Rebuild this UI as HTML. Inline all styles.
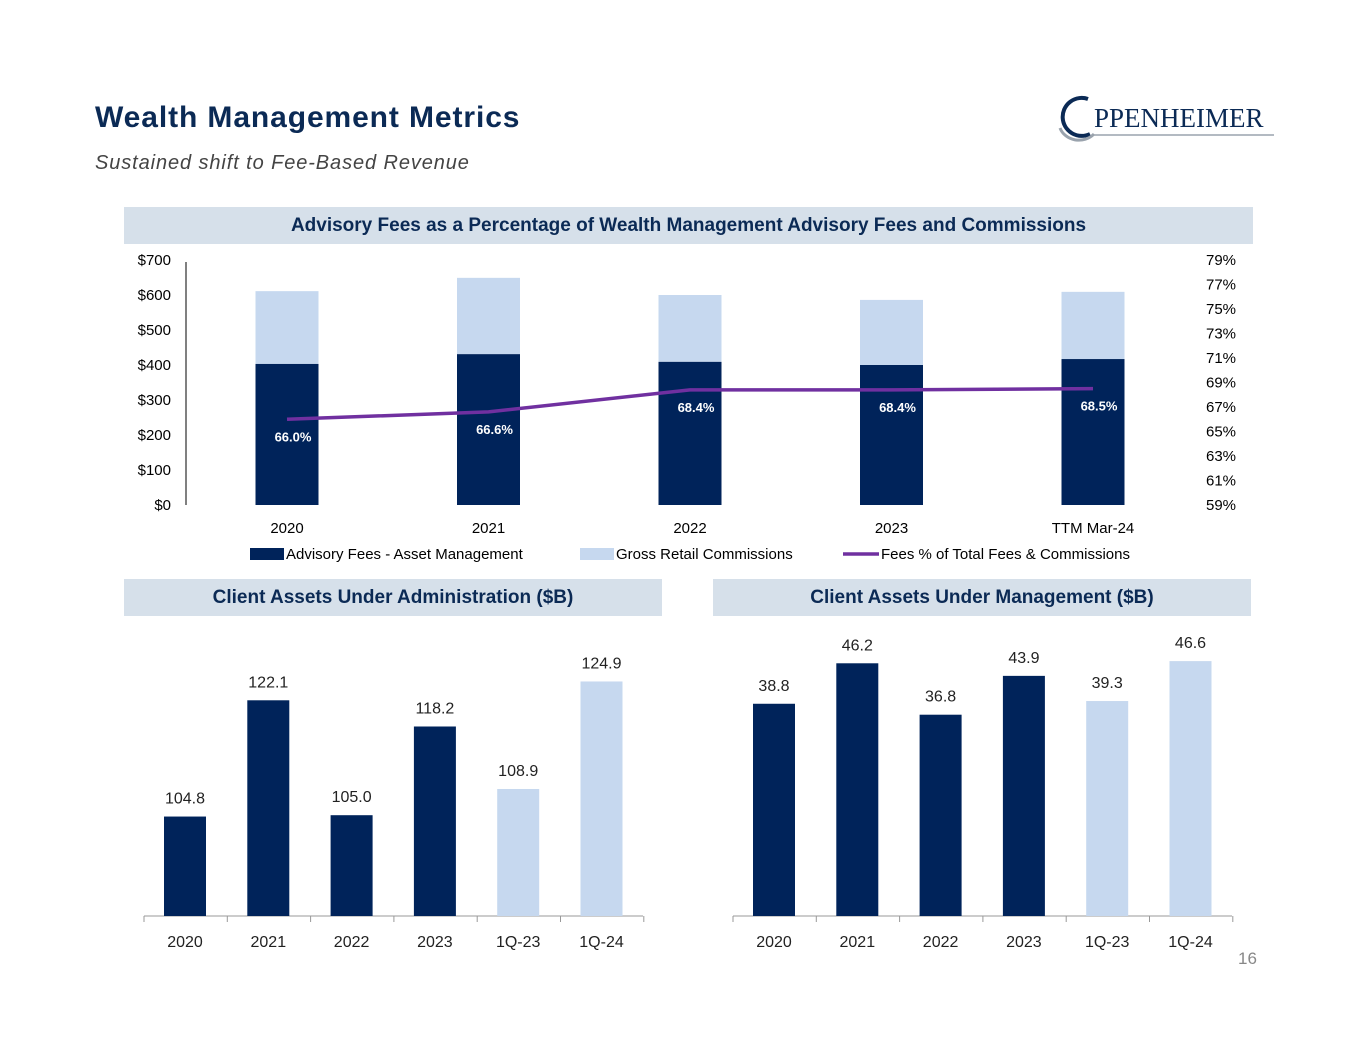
<!DOCTYPE html>
<html><head><meta charset="utf-8"><style>
body{margin:0;width:1365px;height:1055px;background:#fff;font-family:"Liberation Sans",sans-serif;position:relative;overflow:hidden}
.t{position:absolute}
</style></head><body>
<div class="t" style="left:95px;top:101px;font-size:30px;letter-spacing:0.9px;font-weight:bold;color:#0b2a55">Wealth Management Metrics</div>
<div class="t" style="left:95px;top:152px;font-size:20px;letter-spacing:0.9px;font-style:italic;color:#444">Sustained shift to Fee-Based Revenue</div>
<div class="t" style="left:1052px;top:92px;width:230px;height:50px">
<svg width="230" height="50"><path d="M36 7 A19 19 0 1 0 38 42" fill="none" stroke="#0b2a55" stroke-width="4"/><path d="M8 36 A20 18 0 0 0 42 42" fill="none" stroke="#9aa3ad" stroke-width="3"/>
<text x="42" y="35" font-family="Liberation Serif" font-size="27" fill="#0b2a55">PPENHEIMER</text><line x1="42" y1="43" x2="222" y2="43" stroke="#9aa3ad" stroke-width="1.5"/></svg></div>
<div class="t" style="left:124px;top:207px;width:1129px;height:37px;background:#d6e0ea;text-align:center;line-height:37px;font-size:19px;font-weight:bold;color:#0b2a55">Advisory Fees as a Percentage of Wealth Management Advisory Fees and Commissions</div>
<div class="t" style="left:124px;top:579px;width:538px;height:37px;background:#d6e0ea;text-align:center;line-height:37px;font-size:19px;font-weight:bold;color:#0b2a55">Client Assets Under Administration ($B)</div>
<div class="t" style="left:713px;top:579px;width:538px;height:37px;background:#d6e0ea;text-align:center;line-height:37px;font-size:19px;font-weight:bold;color:#0b2a55">Client Assets Under Management ($B)</div>
<div class="t" style="left:1238px;top:949px;font-size:17px;color:#888">16</div>
<svg id="c" width="1365" height="1055" style="position:absolute;left:0;top:0" font-family="Liberation Sans, sans-serif"></svg>
<script>
const topCats=["2020","2021","2022","2023","TTM Mar-24"];
const advFees=[403,431,409,400,417];
const grossComm=[208,218,191,186,192];
const feePct=[66.0,66.6,68.4,68.4,68.5];
const leftTicks=[0,100,200,300,400,500,600,700];
const rightTicks=[59,61,63,65,67,69,71,73,75,77,79];
const botCats=["2020","2021","2022","2023","1Q-23","1Q-24"];
const auaVals=[104.8,122.1,105.0,118.2,108.9,124.9];
const aumVals=[38.8,46.2,36.8,43.9,39.3,46.6];
const NAVY="#00235a",LIGHT="#c6d8ef";
const svg=document.getElementById('c');
function el(t,a,txt){const e=document.createElementNS("http://www.w3.org/2000/svg",t);for(const k in a)e.setAttribute(k,a[k]);if(txt!==undefined)e.textContent=txt;svg.appendChild(e);return e;}
const yL=v=>505-v*0.35, yR=p=>505-(p-59)*12.25, xT=i=>287+i*201.5;
let e;
e=el('line',{x1:186,y1:262,x2:186,y2:505,stroke:'#000'});


leftTicks.forEach(v=>{e=el('text',{x:171,y:yL(v)+5,'text-anchor':'end','font-size':15,fill:'#000'},'$'+v);

});
rightTicks.forEach(v=>{e=el('text',{x:1206,y:yR(v)+5,'font-size':15,fill:'#000'},v+'%');

});
topCats.forEach((c,i)=>{const x=xT(i);
e=el('rect',{x:x-31.5,y:yL(advFees[i]+grossComm[i]),width:63,height:grossComm[i]*0.35,fill:LIGHT});


e=el('rect',{x:x-31.5,y:yL(advFees[i]),width:63,height:advFees[i]*0.35,fill:NAVY});


e=el('text',{x:x,y:533,'text-anchor':'middle','font-size':15},c);


e=el('text',{x:x+6,y:yR(feePct[i])+22,'text-anchor':'middle','font-size':13,'font-weight':'bold',fill:'#fff'},feePct[i].toFixed(1)+'%');

});
e=el('polyline',{points:feePct.map((p,i)=>xT(i)+','+yR(p)).join(' '),fill:'none',stroke:'#7030a0','stroke-width':3.5});


const leg=[[250,'rect',NAVY,'Advisory Fees - Asset Management'],[580,'rect',LIGHT,'Gross Retail Commissions'],[843,'line','#7030a0','Fees % of Total Fees & Commissions']];
leg.forEach(l=>{if(l[1]=='rect')e=el('rect',{x:l[0],y:548,width:34,height:12,fill:l[2]});else e=el('line',{x1:l[0],y1:554,x2:l[0]+36,y2:554,stroke:l[2],'stroke-width':3.5});


e=el('text',{x:l[0]+(l[1]=='rect'?36:38),y:559,'font-size':15},l[3]);

});
function bot(vals,x0,min,sc,name){
 el('line',{x1:x0-41,y1:916,x2:x0+458,y2:916,stroke:'#999'});
 for(let k=0;k<=6;k++)el('line',{x1:x0-41+k*83.3,y1:916,x2:x0-41+k*83.3,y2:922,stroke:'#999'});
 vals.forEach((v,i)=>{const x=x0+i*83.3,y=916-(v-min)*sc;
 e=el('rect',{x:x-21,y:y,width:42,height:916-y,fill:i>=4?LIGHT:NAVY});
 
 
 e=el('text',{x:x,y:y-13,'text-anchor':'middle','font-size':16,fill:'#222'},v.toFixed(1));
 
 
 e=el('text',{x:x,y:947,'text-anchor':'middle','font-size':16,fill:'#222'},botCats[i]);
 
 });
}
bot(auaVals,185,90,6.72,'aua');
bot(aumVals,774,0,5.47,'aum');
</script>
</body></html>
